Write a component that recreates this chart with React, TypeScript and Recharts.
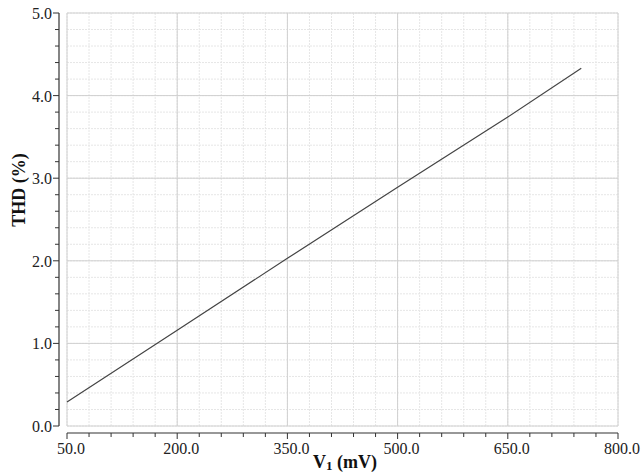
import React from 'react';
import { LineChart, Line, XAxis, YAxis, CartesianGrid } from 'recharts';

// measured THD against input amplitude
const voltage = [50, 200, 350, 500, 650, 750];
const thd = [0.29, 1.16, 2.03, 2.89, 3.74, 4.33];

const xTicks = [50, 80, 110, 140, 170, 200, 230, 260, 290, 320, 350, 380, 410, 440, 470, 500, 530, 560, 590, 620, 650, 680, 710, 740, 770, 800];
const xMajor = [50, 200, 350, 500, 650, 800];
const yTicks = [0, 0.2, 0.4, 0.6, 0.8, 1, 1.2, 1.4, 1.6, 1.8, 2, 2.2, 2.4, 2.6, 2.8, 3, 3.2, 3.4, 3.6, 3.8, 4, 4.2, 4.4, 4.6, 4.8, 5];
const yMajor = [0, 1, 2, 3, 4, 5];
const xDomain = [50, 800];
const yDomain = [0, 5];
const padDomain = [0, 1];

const data = voltage.map((v, i) => ({ v, thd: thd[i] }));

const FONT = '"Liberation Serif", "Times New Roman", serif';
const AXIS = '#333';
const axisLineStyle = { stroke: AXIS, strokeWidth: 1.2 };

const isMajor = (list: number[], v: number) => list.some((m) => Math.abs(m - v) < 1e-6);

const XTick = (props: any) => {
    const { x, y, payload } = props;
    const major = isMajor(xMajor, payload.value);
    return (
        <g>
            <line x1={x} x2={x} y1={y} y2={y + (major ? 6 : 4)} stroke={AXIS} strokeWidth={1} />
            {major && (
                <text x={x + 4} y={y + 21} textAnchor="middle" fontFamily={FONT} fontSize={16} fill="#222">
                    {payload.value.toFixed(1)}
                </text>
            )}
        </g>
    );
};

const YTick = (props: any) => {
    const { x, y, payload } = props;
    const major = isMajor(yMajor, payload.value);
    return (
        <g>
            <line x1={x - (major ? 6 : 4)} x2={x} y1={y} y2={y} stroke={AXIS} strokeWidth={1} />
            {major && (
                <text x={x - 7} y={y + 6} textAnchor="end" fontFamily={FONT} fontSize={16} fill="#222">
                    {payload.value.toFixed(1)}
                </text>
            )}
        </g>
    );
};

const YTitle = () => (
    <text x={25} y={190} transform="rotate(-90, 25, 190)" textAnchor="middle"
        fontFamily={FONT} fontSize={18} fontWeight="bold" fill="#111">
        THD (%)
    </text>
);

const XTitle = () => (
    <text x={345} y={468} textAnchor="middle" fontFamily={FONT} fontSize={18} fontWeight="bold" fill="#111">
        V<tspan fontSize={13} dy={2}>1</tspan><tspan dy={-2}> (mV)</tspan>
    </text>
);

const xTickEl = <XTick />;
const yTickEl = <YTick />;
const xTitleEl = <XTitle />;
const yTitleEl = <YTitle />;

export default function App() {
    return (
        <div style={{ position: 'absolute', left: 0, top: 0, background: '#fff' }}>
            <LineChart width={643} height={472} data={data} margin={{ top: 13, right: 25, left: 0, bottom: 0 }}>
                {/* empty "gap" axes sit between the plot and the drawn axes */}
                <XAxis xAxisId="gap" type="number" domain={padDomain} height={7} tick={false} axisLine={false} tickLine={false} />
                <XAxis
                    xAxisId="value"
                    dataKey="v"
                    type="number"
                    domain={xDomain}
                    ticks={xTicks}
                    interval={0}
                    height={39}
                    tickSize={0}
                    tickMargin={0}
                    tick={xTickEl}
                    tickLine={false}
                    axisLine={axisLineStyle}
                    label={xTitleEl}
                />
                <YAxis yAxisId="gap" type="number" domain={padDomain} width={8} tick={false} axisLine={false} tickLine={false} />
                <YAxis
                    yAxisId="value"
                    type="number"
                    domain={yDomain}
                    ticks={yTicks}
                    interval={0}
                    width={59}
                    tickSize={0}
                    tickMargin={0}
                    tick={yTickEl}
                    tickLine={false}
                    axisLine={axisLineStyle}
                    label={yTitleEl}
                />
                <CartesianGrid xAxisId="value" yAxisId="value" stroke="#e6e6e6" strokeDasharray="2 1" />
                <CartesianGrid
                    xAxisId="value"
                    yAxisId="value"
                    stroke="#d0d0d0"
                    verticalValues={xMajor}
                    horizontalValues={yMajor}
                />
                <Line
                    xAxisId="value"
                    yAxisId="value"
                    type="linear"
                    dataKey="thd"
                    stroke="#444"
                    strokeWidth={1.2}
                    dot={false}
                    isAnimationActive={false}
                />
            </LineChart>
        </div>
    );
}
